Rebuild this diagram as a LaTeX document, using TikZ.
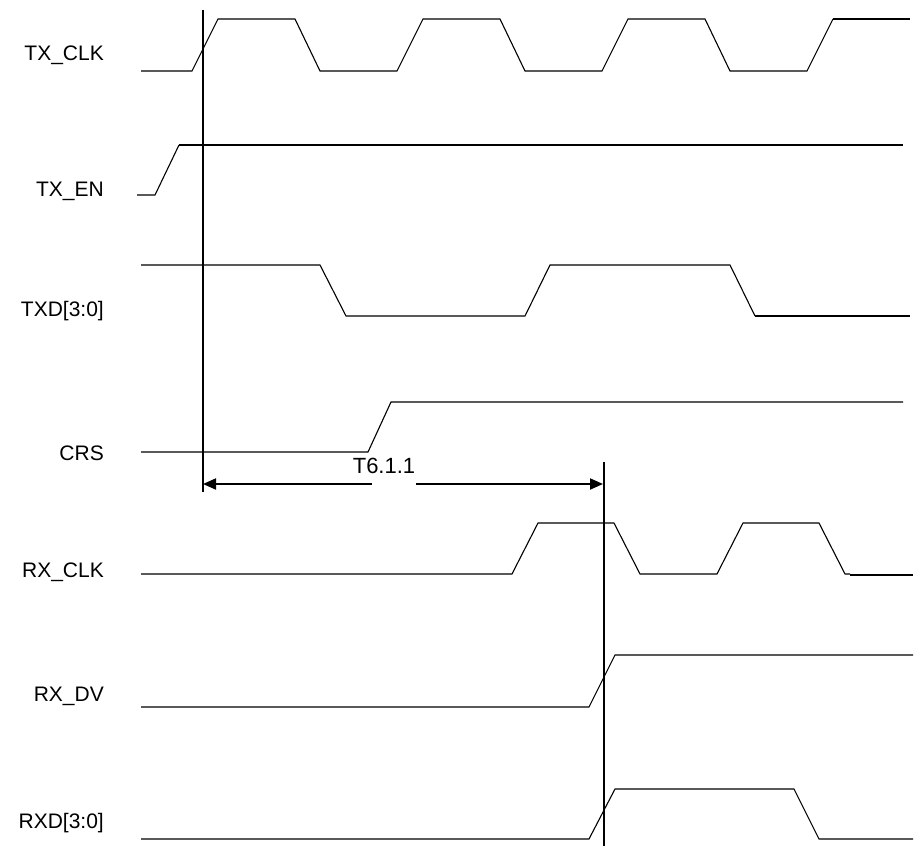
\documentclass[tikz,border=0pt]{standalone}
\usepackage{fontspec}
\setmainfont{Liberation Sans}
\usetikzlibrary{arrows.meta}
\begin{document}
\begin{tikzpicture}[x=1pt,y=-1pt,
  wave/.style={line width=1.1pt, line join=miter},
  heavy/.style={line width=2.2pt},
  marker/.style={line width=2pt},
  lbl/.style={anchor=base east, inner sep=0pt, font=\fontsize{21}{25}\selectfont},
  dimarrow/.style={line width=2pt, -{Triangle[length=13pt,width=11pt]}}]
\useasboundingbox (0,0) rectangle (914,846);

% signal labels
\node[lbl] (ltxclk) at (104,60)  {TX\_CLK};
\node[lbl] (ltxen)  at (104,196) {TX\_EN};
\node[lbl] (ltxd)   at (104,316) {TXD[3:0]};
\node[lbl] (lcrs)   at (104,460) {CRS};
\node[lbl] (lrxclk) at (104,577) {RX\_CLK};
\node[lbl] (lrxdv)  at (104,701) {RX\_DV};
\node[lbl] (lrxd)   at (104,828) {RXD[3:0]};

% TX_CLK
\draw[wave] (141,71) -- (192,71) -- (218,19) -- (295,19) -- (320,71) -- (397,71)
  -- (423,19) -- (500,19) -- (525,71) -- (602,71) -- (628,19) -- (705,19)
  -- (730,71) -- (807,71) -- (833,19);
\draw[heavy] (833,19) -- (910,19);

% TX_EN
\draw[wave] (137,195) -- (155,195) -- (179,145);
\draw[heavy] (179,145) -- (903,145);

% TXD[3:0]
\draw[wave] (141,265) -- (320,265) -- (346,316) -- (525,316) -- (550,265)
  -- (730,265) -- (755,316);
\draw[heavy] (755,316) -- (910,316);

% CRS
\draw[wave] (141,452) -- (368,452) -- (391,402) -- (903,402);

% RX_CLK
\draw[wave] (141,574) -- (512,574) -- (538,523) -- (614,523) -- (640,574)
  -- (717,574) -- (743,523) -- (819,523) -- (845,574) -- (850,574);
\draw[heavy] (850,575) -- (913,575);

% RX_DV
\draw[wave] (141,707) -- (589,707) -- (615,655) -- (913,655);

% RXD[3:0]
\draw[wave] (141,839) -- (589,839) -- (615,789) -- (794,789) -- (819,839) -- (913,839);

% reference markers
\coordinate (m1top) at (203,10);
\coordinate (m1bot) at (203,492);
\coordinate (m2top) at (604,462);
\coordinate (m2bot) at (604,846);
\draw[marker] (m1top) -- (m1bot);
\draw[marker] (m2top) -- (m2bot);

% T6.1.1 dimension
\node[inner sep=0pt, anchor=base, font=\fontsize{22}{26}\selectfont] (tlabel) at (384,473) {T6.1.1};
\coordinate (a1) at (372,484);
\coordinate (a1e) at (203,484);
\coordinate (a2) at (416,484);
\coordinate (a2e) at (603,484);
\draw[dimarrow] (a1) -- (a1e);
\draw[dimarrow] (a2) -- (a2e);
\end{tikzpicture}
\end{document}
